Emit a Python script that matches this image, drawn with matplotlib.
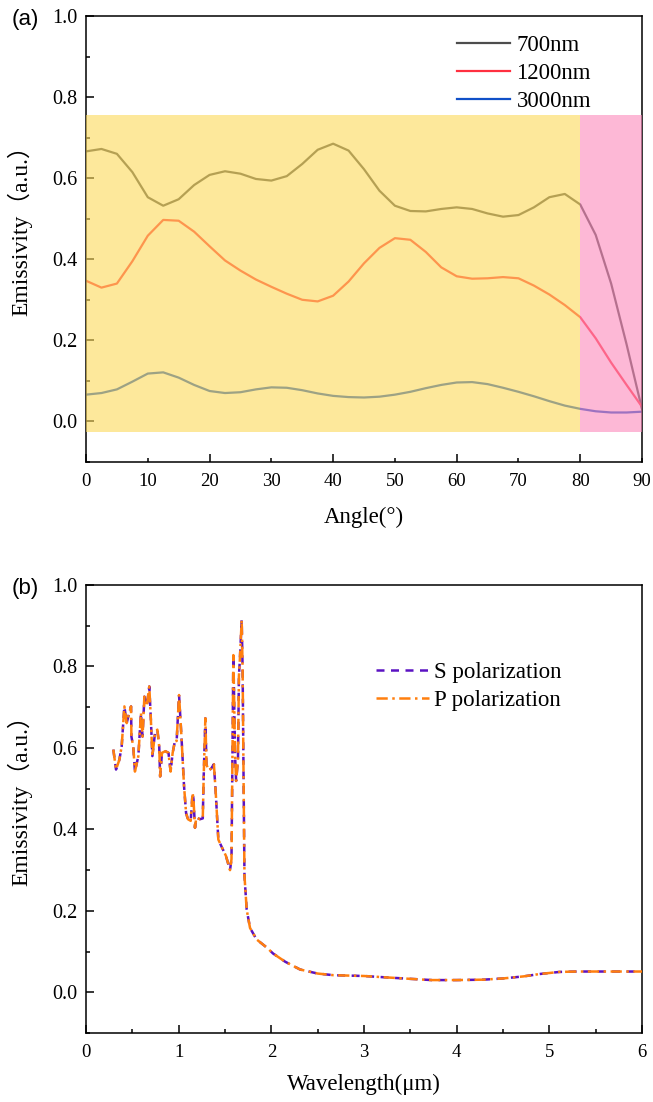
import matplotlib
matplotlib.use("Agg")
import matplotlib.pyplot as plt
from matplotlib.ticker import MultipleLocator, FixedLocator, FixedFormatter

# ---------------- data ----------------
angles = [0, 2.5, 5, 7.5, 10, 12.5, 15, 17.5, 20, 22.5, 25, 27.5, 30, 32.5, 35, 37.5,
          40, 42.5, 45, 47.5, 50, 52.5, 55, 57.5, 60, 62.5, 65, 67.5, 70, 72.5, 75,
          77.5, 80, 82.5, 85, 87.5, 90]
em_700 = [0.666, 0.672, 0.660, 0.615, 0.553, 0.532, 0.548, 0.583, 0.608, 0.617, 0.611,
          0.598, 0.594, 0.605, 0.635, 0.670, 0.685, 0.668, 0.622, 0.569, 0.532, 0.519,
          0.518, 0.524, 0.528, 0.524, 0.513, 0.505, 0.509, 0.528, 0.553, 0.561, 0.535,
          0.460, 0.340, 0.190, 0.030]
em_1200 = [0.347, 0.330, 0.340, 0.395, 0.458, 0.497, 0.495, 0.468, 0.432, 0.397, 0.372,
           0.350, 0.332, 0.315, 0.300, 0.296, 0.310, 0.345, 0.390, 0.428, 0.452, 0.448,
           0.418, 0.380, 0.358, 0.352, 0.353, 0.356, 0.353, 0.335, 0.313, 0.287, 0.257,
           0.205, 0.145, 0.090, 0.036]
em_3000 = [0.066, 0.070, 0.079, 0.098, 0.118, 0.121, 0.108, 0.090, 0.075, 0.070, 0.072,
           0.079, 0.084, 0.083, 0.077, 0.069, 0.063, 0.060, 0.059, 0.061, 0.066, 0.073,
           0.082, 0.090, 0.096, 0.097, 0.092, 0.083, 0.073, 0.062, 0.050, 0.039, 0.031,
           0.025, 0.022, 0.022, 0.024]
series_top = ["700nm", "1200nm", "3000nm"]

wavelength = [0.295, 0.324, 0.36, 0.385, 0.414, 0.439, 0.457, 0.486, 0.49, 0.51, 0.528,
              0.565, 0.593, 0.61, 0.63, 0.655, 0.683, 0.70, 0.716, 0.745, 0.77, 0.79,
              0.80, 0.82, 0.856, 0.89, 0.913, 0.935, 0.96, 0.978, 1.004, 1.03, 1.058,
              1.08, 1.10, 1.13, 1.15, 1.16, 1.176, 1.19, 1.23, 1.26, 1.27, 1.288, 1.30,
              1.32, 1.35, 1.38, 1.40, 1.428, 1.46, 1.51, 1.554, 1.57, 1.58, 1.59, 1.61,
              1.62, 1.64, 1.65, 1.66, 1.68, 1.69, 1.70, 1.71, 1.734, 1.77, 1.84, 1.95,
              2.02, 2.15, 2.31, 2.5, 2.67, 3.0, 3.21, 3.5, 3.73, 4.0, 4.29, 4.5, 4.72,
              4.9, 5.11, 5.3, 5.55, 5.8, 6.0]
em_s = [0.596, 0.547, 0.571, 0.604, 0.702, 0.661, 0.678, 0.702, 0.628, 0.604, 0.542,
        0.580, 0.686, 0.628, 0.726, 0.702, 0.751, 0.670, 0.580, 0.637, 0.645, 0.604,
        0.530, 0.588, 0.592, 0.588, 0.542, 0.588, 0.617, 0.617, 0.730, 0.628, 0.506,
        0.440, 0.425, 0.421, 0.490, 0.474, 0.404, 0.429, 0.425, 0.427, 0.530, 0.673,
        0.560, 0.545, 0.549, 0.560, 0.490, 0.375, 0.359, 0.335, 0.300, 0.327, 0.572,
        0.828, 0.572, 0.519, 0.572, 0.776, 0.816, 0.914, 0.792, 0.531, 0.286, 0.203,
        0.158, 0.130, 0.110, 0.095, 0.075, 0.056, 0.046, 0.042, 0.040, 0.037, 0.033,
        0.030, 0.030, 0.031, 0.034, 0.039, 0.045, 0.050, 0.051, 0.051, 0.051, 0.051]
em_p = list(em_s)
series_bottom = ["S polarization", "P polarization"]

# ---------------- style ----------------
serif = ["Liberation Serif", "DejaVu Serif"]
cjk_serif = ["Liberation Serif", "Noto Sans CJK SC"]
plt.rcParams["font.family"] = serif

fig = plt.figure(figsize=(6.53, 11.02), dpi=100)
ax1 = fig.add_axes([0.1317, 0.5808, 0.8515, 0.4047])
ax2 = fig.add_axes([0.1317, 0.0626, 0.8515, 0.4065])


def style_axes(ax):
    for sp in ax.spines.values():
        sp.set_linewidth(1.1)
    ax.tick_params(which="both", direction="in", top=False, right=False, width=1.1)
    ax.tick_params(which="major", length=5.5)
    ax.tick_params(which="minor", length=3)
    ax.tick_params(axis="x", which="both", pad=8, labelsize=13.5)
    ax.tick_params(axis="y", which="both", pad=6, labelsize=14.5)


def set_x_alternating(ax, major, minor):
    ax.xaxis.set_major_locator(FixedLocator(major))
    ax.xaxis.set_minor_locator(FixedLocator(minor))
    ax.xaxis.set_major_formatter(FixedFormatter([f"{v:g}" for v in major]))
    ax.xaxis.set_minor_formatter(FixedFormatter([f"{v:g}" for v in minor]))


# ---------------- panel (a) ----------------
ax1.plot(angles, em_700, color="#4D4D4D", lw=1.6, label=series_top[0], zorder=2)
ax1.plot(angles, em_1200, color="#FF3040", lw=1.6, label=series_top[1], zorder=2)
ax1.plot(angles, em_3000, color="#1050C8", lw=1.6, label=series_top[2], zorder=2)
ax1.fill_between([0, 80], -0.025, 0.755, color="#FCD958", alpha=0.6, lw=0, zorder=3)
ax1.fill_between([80, 90], -0.025, 0.755, color="#FC89BB", alpha=0.6, lw=0, zorder=3)
ax1.set_xlim(0, 90)
ax1.set_ylim(-0.1, 1.0)
set_x_alternating(ax1, [0, 20, 40, 60, 80], [10, 30, 50, 70, 90])
ax1.set_yticks([0.0, 0.2, 0.4, 0.6, 0.8, 1.0])
ax1.yaxis.set_minor_locator(MultipleLocator(0.1))
ax1.set_yticklabels(["0.0", "0.2", "0.4", "0.6", "0.8", "1.0"])
style_axes(ax1)
ax1.set_xlabel("Angle(°)", fontsize=16.5, labelpad=12)
ax1.set_ylabel("Emissivity（a.u.）", fontsize=17, family=cjk_serif)
ax1.yaxis.set_label_coords(-0.096, 0.532)
ax1.legend(loc="upper left", bbox_to_anchor=(0.667, 0.957), frameon=False,
           fontsize=16.5, handlelength=2.3, handletextpad=0.3, labelspacing=0.3,
           borderpad=0, borderaxespad=0)
fig.text(0.038, 0.982, "(a)", fontsize=16, family=["Liberation Sans"],
         ha="center", va="center")

# ---------------- panel (b) ----------------
ax2.plot(wavelength, em_s, color="#5B12C2", lw=1.8, ls=(0, (3.2, 2.6)),
         label=series_bottom[0], zorder=2)
ax2.plot(wavelength, em_p, color="#FF7F0E", lw=1.8, ls=(0, (4.5, 1.8, 1.0, 1.8)),
         label=series_bottom[1], zorder=3)
ax2.set_xlim(0, 6)
ax2.set_ylim(-0.1, 1.0)
set_x_alternating(ax2, [0, 1, 2, 3, 4, 5, 6], [0.5, 1.5, 2.5, 3.5, 4.5, 5.5])
ax2.xaxis.set_minor_formatter(FixedFormatter([""] * 6))
ax2.set_yticks([0.0, 0.2, 0.4, 0.6, 0.8, 1.0])
ax2.yaxis.set_minor_locator(MultipleLocator(0.1))
ax2.set_yticklabels(["0.0", "0.2", "0.4", "0.6", "0.8", "1.0"])
style_axes(ax2)
ax2.set_xlabel("Wavelength(μm)", fontsize=16.5, labelpad=9)
ax2.set_ylabel("Emissivity（a.u.）", fontsize=17, family=cjk_serif)
ax2.yaxis.set_label_coords(-0.096, 0.532)
ax2.legend(loc="upper left", bbox_to_anchor=(0.522, 0.829), frameon=False,
           fontsize=16.5, handlelength=2.3, handletextpad=0.2, labelspacing=0.3,
           borderpad=0, borderaxespad=0)
fig.text(0.038, 0.466, "(b)", fontsize=16, family=["Liberation Sans"],
         ha="center", va="center")

fig.savefig("out.png", dpi=100)
